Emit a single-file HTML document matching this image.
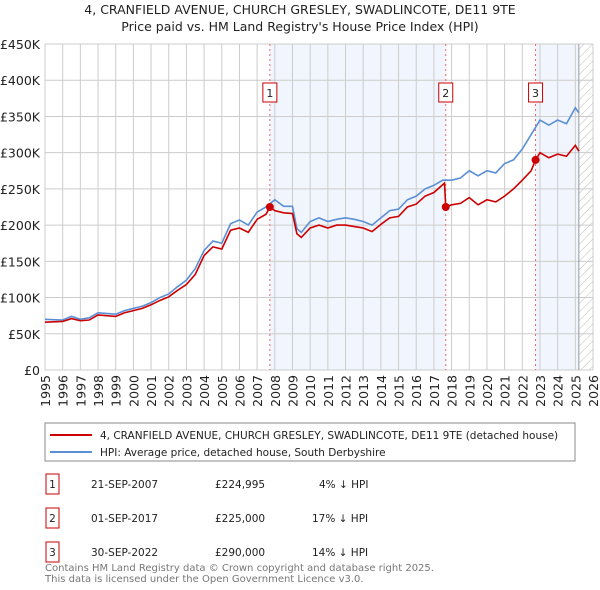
<!DOCTYPE html>
<html><head><meta charset="utf-8"><style>
body{margin:0;background:#fff;font-family:"DejaVu Sans","Liberation Sans",sans-serif;}
#wrap{position:relative;width:600px;height:590px;}
</style></head><body><div id="wrap">
<svg id="svg" width="600" height="590" xmlns="http://www.w3.org/2000/svg" style="position:absolute;left:0;top:0" font-family="DejaVu Sans, Liberation Sans, sans-serif">
<defs><pattern id="hatch" width="6" height="6" patternUnits="userSpaceOnUse" patternTransform="rotate(45)"><line x1="0" y1="0" x2="0" y2="6" stroke="#bbb" stroke-width="1"/></pattern></defs>
<text x="300" y="14" text-anchor="middle" font-size="12.5" fill="#222">4, CRANFIELD AVENUE, CHURCH GRESLEY, SWADLINCOTE, DE11 9TE</text>
<text x="300" y="31" text-anchor="middle" font-size="12.5" fill="#222">Price paid vs. HM Land Registry's House Price Index (HPI)</text>
<g id="plot"></g>
<rect x="45" y="423" width="530" height="38" fill="#fff" stroke="#888"/>
<line x1="50" y1="435" x2="92" y2="435" stroke="#cc0000" stroke-width="2"/>
<text x="100" y="439" font-size="10.5" fill="#222">4, CRANFIELD AVENUE, CHURCH GRESLEY, SWADLINCOTE, DE11 9TE (detached house)</text>
<line x1="50" y1="452" x2="92" y2="452" stroke="#5b8fd4" stroke-width="2"/>
<text x="100" y="456" font-size="10.5" fill="#222">HPI: Average price, detached house, South Derbyshire</text>
<g font-size="10.5" fill="#222">
<g><rect x="46" y="474" width="13" height="20" fill="#fff" stroke="#cc0000"/><text x="52.5" y="488" text-anchor="middle">1</text><text x="91" y="488">21-SEP-2007</text><text x="215" y="488">£224,995</text><text x="319" y="488">4% ↓ HPI</text></g>
<g><rect x="46" y="508" width="13" height="20" fill="#fff" stroke="#cc0000"/><text x="52.5" y="522" text-anchor="middle">2</text><text x="91" y="522">01-SEP-2017</text><text x="215" y="522">£225,000</text><text x="312" y="522">17% ↓ HPI</text></g>
<g><rect x="46" y="542" width="13" height="20" fill="#fff" stroke="#cc0000"/><text x="52.5" y="556" text-anchor="middle">3</text><text x="91" y="556">30-SEP-2022</text><text x="215" y="556">£290,000</text><text x="312" y="556">14% ↓ HPI</text></g>
</g>
<text x="45" y="571" font-size="10" fill="#777">Contains HM Land Registry data © Crown copyright and database right 2025.</text>
<text x="45" y="582" font-size="10" fill="#777">This data is licensed under the Open Government Licence v3.0.</text>
</svg></div>
<script>
const yTicks=[0,50,100,150,200,250,300,350,400,450];
const years=[1995,1996,1997,1998,1999,2000,2001,2002,2003,2004,2005,2006,2007,2008,2009,2010,2011,2012,2013,2014,2015,2016,2017,2018,2019,2020,2021,2022,2023,2024,2025,2026];
const hpiT=[1995,1996,1996.5,1997,1997.5,1998,1999,1999.5,2000,2000.5,2001,2001.5,2002,2002.5,2003,2003.5,2004,2004.5,2005,2005.5,2006,2006.5,2007,2007.5,2008,2008.5,2009,2009.25,2009.5,2010,2010.5,2011,2011.5,2012,2012.5,2013,2013.5,2014,2014.5,2015,2015.5,2016,2016.5,2017,2017.5,2018,2018.5,2019,2019.5,2020,2020.5,2021,2021.5,2022,2022.5,2023,2023.5,2024,2024.5,2025,2025.2];
const hpiV=[70,69,74,70,72,79,77,82,85,88,93,100,105,115,124,140,165,178,175,202,207,200,218,225,235,226,226,195,190,205,210,205,208,210,208,205,200,210,220,222,235,240,250,255,262,262,265,275,268,275,272,285,290,305,325,345,338,345,340,362,355];
const redT=[1995,1996,1996.5,1997,1997.5,1998,1999,1999.5,2000,2000.5,2001,2001.5,2002,2002.5,2003,2003.5,2004,2004.5,2005,2005.5,2006,2006.5,2007,2007.5,2007.72,2008,2008.5,2009,2009.25,2009.5,2010,2010.5,2011,2011.5,2012,2012.5,2013,2013.5,2014,2014.5,2015,2015.5,2016,2016.5,2017,2017.6,2017.67,2018,2018.5,2019,2019.5,2020,2020.5,2021,2021.5,2022,2022.5,2022.75,2023,2023.5,2024,2024.5,2025,2025.2];
const redV=[66,67,71,68,69,76,74,79,82,85,90,96,101,110,118,132,158,170,167,193,196,190,208,215,225,220,217,216,188,183,196,200,196,200,200,198,196,191,201,210,212,225,229,240,245,258,225,228,230,238,228,235,232,240,250,262,275,290,300,293,298,295,310,302];
const saleT=[2007.72,2017.67,2022.75];
const saleV=[224.995,225,290];
const saleLabels=["1","2","3"];
const X=t=>45+(t-1995)*(548/31), Y=v=>370-v*326/450;
const NS="http://www.w3.org/2000/svg", g=document.getElementById('plot');
function mk(tag,a){const e=document.createElementNS(NS,tag);for(const k in a)e.setAttribute(k,a[k]);g.appendChild(e);return e;}
let e;
e=mk('rect',{x:X(saleT[0]),y:44,width:X(saleT[1])-X(saleT[0]),height:326,fill:'#f1f5fd'});


e=mk('rect',{x:X(saleT[2]),y:44,width:X(2025.2)-X(saleT[2]),height:326,fill:'#f1f5fd'});


e=mk('rect',{x:X(2025.2),y:44,width:X(2026)-X(2025.2),height:326,fill:'url(#hatch)'});


yTicks.forEach(v=>{
 e=mk('line',{x1:45,x2:593,y1:Y(v),y2:Y(v),stroke:'#ccc'});
 
 
 e=mk('text',{x:40,y:Y(v)+5,'text-anchor':'end','font-size':12.5,fill:'#222'});e.textContent=v==0?'£0':'£'+v+'K';
 
 
});
years.forEach(yr=>{
 e=mk('line',{x1:X(yr),x2:X(yr),y1:44,y2:370,stroke:'#ccc'});
 
 
 e=mk('text',{x:0,y:0,'text-anchor':'end','font-size':12.5,fill:'#222',transform:`translate(${X(yr)+5},375) rotate(-90)`});e.textContent=yr;
 
 
});
e=mk('line',{x1:X(2025.2),x2:X(2025.2),y1:44,y2:370,stroke:'#999'});


saleT.forEach((t,i)=>{
 e=mk('line',{x1:X(t),x2:X(t),y1:44,y2:370,stroke:'#e66','stroke-dasharray':'2,3'});
 
 
 e=mk('rect',{x:X(t)-7,y:83,width:14,height:19,fill:'#fff',stroke:'#cc0000'});
 
 
 e=mk('text',{x:X(t),y:97,'text-anchor':'middle','font-size':11,fill:'#222'});e.textContent=saleLabels[i];
 
 
});
e=mk('polyline',{points:hpiT.map((t,i)=>X(t)+','+Y(hpiV[i])).join(' '),fill:'none',stroke:'#5b8fd4','stroke-width':1.6});


e=mk('polyline',{points:redT.map((t,i)=>X(t)+','+Y(redV[i])).join(' '),fill:'none',stroke:'#cc0000','stroke-width':1.6});


saleT.forEach((t,i)=>{
 e=mk('circle',{cx:X(t),cy:Y(saleV[i]),r:4,fill:'#cc0000'});
 
 
});
</script></body></html>
